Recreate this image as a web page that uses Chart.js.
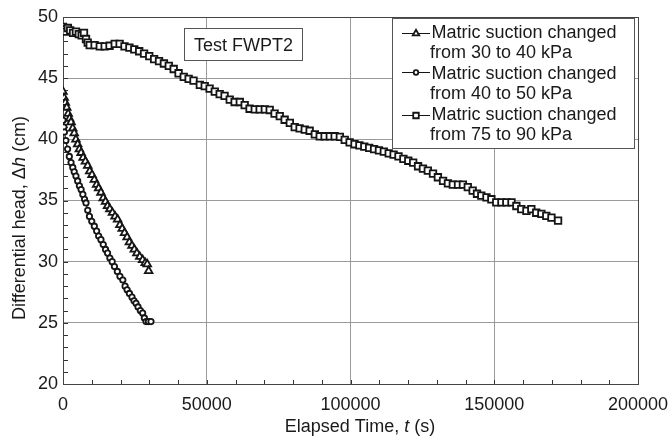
<!DOCTYPE html>
<html><head><meta charset="utf-8">
<script src="https://cdn.jsdelivr.net/npm/chart.js@4.4.1/dist/chart.umd.min.js"></script>
<style>html,body{margin:0;padding:0;background:#fff;}canvas{display:block;}</style>
</head><body>
<canvas id="c" width="671" height="442"></canvas>
<script>
const FONT = "'Liberation Sans', Arial, Helvetica, sans-serif";

// ---- axis ticks ----
const xTicks = [0, 50000, 100000, 150000, 200000];
const yTicks = [20, 25, 30, 35, 40, 45, 50];
const xMinorStep = 10000;
const yMinorStep = 1;

// ---- legend / labels ----
const seriesLabels = [
  ["Matric suction changed", "from 30 to 40 kPa"],
  ["Matric suction changed", "from 40 to 50 kPa"],
  ["Matric suction changed", "from 75 to 90 kPa"]
];
const boxLabel = "Test FWPT2";

// ---- series 1: 30 -> 40 kPa (triangles) ----
const triT = [0, 400, 800, 1300, 1800, 2300, 2800, 3400, 3900, 4500, 5100, 5700, 6300, 7000, 7800, 8600, 9300, 10100, 10900, 11700, 12400, 13200, 14000, 14800, 15500, 16300, 17200, 18100, 19000, 19800, 20600, 21400, 22300, 23100, 24000, 24800, 25700, 26700, 27700, 28600, 29300, 29800];
const triH = [43.9, 43.4, 43.0, 42.6, 42.1, 41.7, 41.4, 40.9, 40.5, 40.0, 39.6, 39.2, 38.9, 38.5, 38.2, 37.85, 37.4, 37.1, 36.7, 36.3, 36.0, 35.65, 35.2, 34.9, 34.55, 34.3, 34.0, 33.7, 33.45, 33.0, 32.7, 32.35, 32.0, 31.6, 31.3, 31.0, 30.7, 30.4, 30.15, 29.9, 29.8, 29.25];

// ---- series 2: 40 -> 50 kPa (circles) ----
const cirT = [0, 300, 500, 1000, 1600, 2200, 2800, 3400, 3900, 4500, 5100, 5700, 6300, 6900, 7500, 8000, 8600, 9200, 10000, 10900, 11700, 12400, 13200, 14000, 14800, 15500, 16300, 17100, 17900, 18900, 19800, 20800, 21600, 22300, 23100, 24000, 24700, 25400, 26100, 26900, 27700, 28300, 28900, 29700, 30600];
const cirH = [41.55, 41.0, 40.6, 39.9, 39.2, 38.6, 38.1, 37.7, 37.35, 37.0, 36.6, 36.2, 35.9, 35.5, 35.1, 34.8, 34.2, 33.7, 33.3, 32.9, 32.5, 32.1, 31.8, 31.4, 31.0, 30.7, 30.3, 30.0, 29.6, 29.2, 28.8, 28.5, 28.0, 27.7, 27.4, 27.1, 26.8, 26.6, 26.3, 26.0, 25.8, 25.4, 25.1, 25.1, 25.1];

// ---- series 3: 75 -> 90 kPa (squares) ----
const sqT = [0, 500, 1000, 1700, 2500, 3500, 4500, 5500, 6500, 7300,
  8000, 8600, 9300, 11000, 12800, 14500, 16200, 18000, 19700, 21400,
  23100, 24800, 26500, 28200, 30000, 31700, 33400, 35100, 36800, 38500,
  40200, 42000, 43700, 45400, 47600, 49300, 51000, 52800, 54500, 56200,
  58000, 59700, 61500, 63200, 64900, 66700, 68400, 70200, 71900, 73600,
  75400, 77100, 78900, 80600, 82300, 84100, 85800, 87600, 89300, 91000,
  92800, 94500, 96300, 98000, 99700, 101400, 103100, 104800, 106500, 108200,
  109900, 111600, 113300, 115000, 116700, 118400, 120100, 121800, 123500, 125200,
  126900, 128700, 130400, 132200, 133900, 135600, 137400, 139100, 140800, 142500,
  144000, 145500, 147300, 149000, 150700, 152500, 154200, 156000, 157700, 159400,
  161200, 162900, 164600, 166400, 168100, 169900, 172200];
const sqH = [49.2, 49.0, 48.8, 49.1, 48.9, 48.7, 48.8, 48.6, 48.5, 48.7,
  48.2, 47.9, 47.7, 47.7, 47.6, 47.6, 47.65, 47.8, 47.8, 47.6,
  47.5, 47.35, 47.2, 47.0, 46.8, 46.55, 46.4, 46.2, 46.0, 45.75,
  45.4, 45.1, 44.95, 44.8, 44.45, 44.35, 44.15, 43.9, 43.7, 43.55,
  43.25, 43.05, 43.05, 42.8, 42.5, 42.45, 42.45, 42.45, 42.4, 42.1,
  41.9, 41.6, 41.35, 41.0, 40.9, 40.8, 40.7, 40.4, 40.25, 40.25,
  40.25, 40.25, 40.2, 39.95, 39.75, 39.6, 39.5, 39.4, 39.3, 39.2,
  39.1, 39.0, 38.85, 38.75, 38.6, 38.4, 38.25, 38.1, 37.8, 37.6,
  37.45, 37.2, 36.9, 36.6, 36.4, 36.3, 36.3, 36.3, 36.1, 35.8,
  35.55, 35.4, 35.25, 35.1, 34.85, 34.85, 34.85, 34.85, 34.55, 34.3,
  34.15, 34.3, 34.0, 33.9, 33.75, 33.6, 33.35];

const pts = (ts, hs) => ts.map((t, i) => ({x: t, y: hs[i]}));

const markers = [
  {style: 'triangle', r: 4.4},
  {style: 'circle', r: 2.7},
  {style: 'rect', r: 4.6}
];
const INK = '#151515';
const MW = 1.8;

function mkDs(label, data, m) {
  return {
    label, data,
    pointStyle: m.style, pointRadius: m.r, pointHoverRadius: m.r,
    pointBackgroundColor: '#fff', pointBorderColor: INK, pointBorderWidth: MW,
    borderColor: INK, borderWidth: 1.2, showLine: true, fill: false, tension: 0
  };
}

function drawMarker(ctx, m, x, y) {
  ctx.save();
  ctx.fillStyle = '#fff'; ctx.strokeStyle = INK; ctx.lineWidth = MW;
  if (Chart.helpers && Chart.helpers.drawPoint) {
    Chart.helpers.drawPoint(ctx, {pointStyle: m.style, radius: m.r * 0.85, borderWidth: MW, rotation: 0}, x, y);
  } else {
    ctx.beginPath(); ctx.arc(x, y, m.r, 0, Math.PI * 2); ctx.fill(); ctx.stroke();
  }
  ctx.restore();
}

function drawRich(ctx, parts, cx, y) {
  let total = 0;
  parts.forEach(p => { ctx.font = p.font; p.w = ctx.measureText(p.t).width; total += p.w; });
  let x = cx - total / 2;
  ctx.textAlign = 'left';
  parts.forEach(p => { ctx.font = p.font; ctx.fillText(p.t, x, y); x += p.w; });
}

const decor = {
  id: 'decor',
  beforeDatasetsDraw(chart) {
    const {ctx, chartArea: a, scales: {x, y}} = chart;
    ctx.save();
    ctx.strokeStyle = '#333'; ctx.lineWidth = 1;
    ctx.beginPath();
    for (let v = xTicks[0]; v <= xTicks[xTicks.length - 1]; v += xMinorStep) {
      const px = Math.round(x.getPixelForValue(v)) + 0.5;
      ctx.moveTo(px, a.bottom); ctx.lineTo(px, a.bottom - 4);
    }
    for (let v = yTicks[0]; v <= yTicks[yTicks.length - 1]; v += yMinorStep) {
      const py = Math.round(y.getPixelForValue(v)) + 0.5;
      ctx.moveTo(a.left, py); ctx.lineTo(a.left + 5, py);
    }
    ctx.stroke();
    ctx.strokeStyle = '#444';
    ctx.strokeRect(Math.round(a.left) + 0.5, Math.round(a.top) + 0.5, Math.round(a.right - a.left), Math.round(a.bottom - a.top));
    ctx.restore();
  },
  afterDraw(chart) {
    const {ctx} = chart;
    ctx.save();
    // Test box
    ctx.fillStyle = '#fff'; ctx.fillRect(184.5, 28.5, 118, 32);
    ctx.strokeStyle = '#555'; ctx.lineWidth = 1; ctx.strokeRect(184.5, 28.5, 118, 32);
    ctx.fillStyle = '#1a1a1a'; ctx.font = '18px ' + FONT;
    ctx.textAlign = 'center'; ctx.textBaseline = 'alphabetic';
    ctx.fillText(boxLabel, 243.5, 50.5);

    // Legend box
    ctx.fillStyle = '#fff'; ctx.fillRect(392.5, 18.5, 242, 130);
    ctx.strokeStyle = '#555'; ctx.strokeRect(392.5, 18.5, 242, 130);
    const baselines = [[37.5, 58], [78.5, 99], [119.5, 140]];
    const markY = [33, 72, 115];
    ctx.textAlign = 'left';
    seriesLabels.forEach((lines, i) => {
      ctx.strokeStyle = INK; ctx.lineWidth = 1;
      ctx.beginPath(); ctx.moveTo(402, markY[i] + 0.5); ctx.lineTo(430, markY[i] + 0.5); ctx.stroke();
      drawMarker(ctx, markers[i], 416, markY[i] + 0.5);
      ctx.fillStyle = '#1a1a1a'; ctx.font = '18px ' + FONT;
      ctx.fillText(lines[0], 431.5, baselines[i][0]);
      ctx.fillText(lines[1], 430, baselines[i][1]);
    });

    // X axis title
    ctx.fillStyle = '#1a1a1a'; ctx.textBaseline = 'alphabetic';
    const nf = '18px ' + FONT, itf = 'italic 18px ' + FONT;
    drawRich(ctx, [{t: 'Elapsed Time, ', font: nf}, {t: 't', font: itf}, {t: ' (s)', font: nf}], 360, 431.5);
    // Y axis title
    ctx.translate(25, 218);
    ctx.rotate(-Math.PI / 2);
    drawRich(ctx, [{t: 'Differential head, \u0394', font: nf}, {t: 'h', font: itf}, {t: ' (cm)', font: nf}], 0, 0);
    ctx.restore();
  }
};

new Chart(document.getElementById('c'), {
  type: 'scatter',
  data: {
    datasets: [
      mkDs(seriesLabels[0].join(' '), pts(triT, triH), markers[0]),
      mkDs(seriesLabels[1].join(' '), pts(cirT, cirH), markers[1]),
      mkDs(seriesLabels[2].join(' '), pts(sqT, sqH), markers[2])
    ]
  },
  options: {
    responsive: false,
    devicePixelRatio: 1,
    animation: false,
    layout: {padding: {top: 17, right: 33, left: 0, bottom: 0}},
    plugins: {legend: {display: false}, tooltip: {enabled: false}, title: {display: false}},
    scales: {
      x: {
        type: 'linear', min: xTicks[0], max: xTicks[xTicks.length - 1],
        afterFit: s => { s.height = 58; s.paddingLeft = 0; s.paddingRight = 0; },
        afterBuildTicks: s => { s.ticks = xTicks.map(v => ({value: v})); },
        ticks: {callback: v => String(v), maxRotation: 0, autoSkip: false, padding: 10,
                color: '#1a1a1a', font: {family: FONT, size: 18}},
        grid: {color: '#9a9a9a', lineWidth: 1, drawTicks: false},
        border: {display: false}
      },
      y: {
        type: 'linear', min: yTicks[0], max: yTicks[yTicks.length - 1],
        afterFit: s => { s.width = 63; s.paddingTop = 0; s.paddingBottom = 0; },
        afterBuildTicks: s => { s.ticks = yTicks.map(v => ({value: v})); },
        ticks: {callback: v => String(v), padding: 5,
                color: '#1a1a1a', font: {family: FONT, size: 18}},
        grid: {color: '#9a9a9a', lineWidth: 1, drawTicks: false},
        border: {display: false}
      }
    }
  },
  plugins: [decor]
});
</script>
</body></html>
